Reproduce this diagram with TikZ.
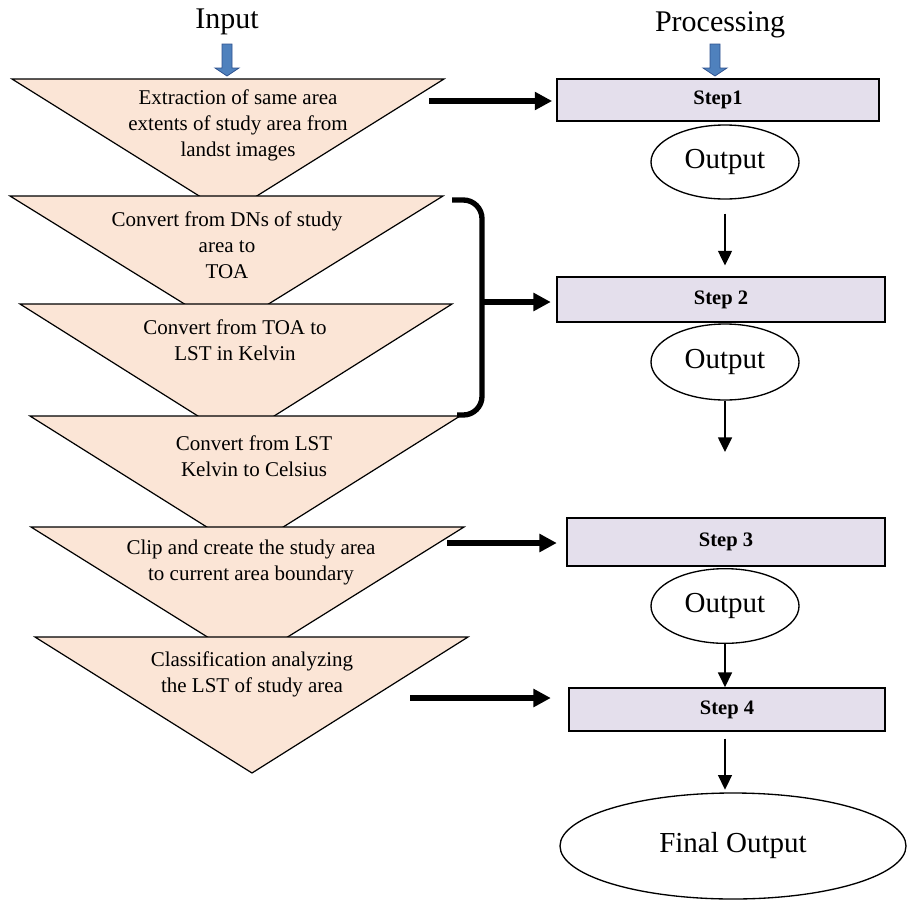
\documentclass[tikz,border=0pt]{standalone}
\usepackage{fontspec}
\setmainfont{Liberation Serif}
\usetikzlibrary{arrows.meta,shapes.geometric}
\definecolor{peach}{HTML}{FBE5D6}
\definecolor{lav}{HTML}{E4DFEC}
\definecolor{blu}{HTML}{4F81BD}
\definecolor{bluedge}{HTML}{2F528F}
\begin{document}
\begin{tikzpicture}[x=0.75pt,y=-0.75pt,
 tri/.style={fill=peach,draw=black,line width=0.9pt,line join=miter},
 ttext/.style={align=center,inner sep=0pt,font=\fontsize{15.75}{19.5}\selectfont},
 headtxt/.style={inner sep=0pt,font=\fontsize{22.5}{27}\selectfont},
 stepbox/.style={draw=black,line width=1.3pt,fill=lav,inner sep=0pt,font=\fontsize{15.4}{18}\selectfont\bfseries},
 outell/.style={ellipse,draw=black,line width=1pt,inner sep=0pt,font=\fontsize{21.75}{26}\selectfont},
 thinarrow/.style={line width=1.1pt,-{Triangle[length=11pt,width=10.5pt]}},
 thickarrow/.style={line width=4.5pt,-{Triangle[length=13pt,width=13pt]}},
 blockarrow/.style={fill=blu,draw=bluedge,line width=0.6pt}
]
\useasboundingbox (0,0) rectangle (907,900);

% headings
\node[headtxt] (inlab) at (227,22) {Input};
\node[headtxt] (prlab) at (720,25) {Processing};

% blue block arrows
\coordinate (inarr) at (227,44);
\coordinate (prarr) at (715,44);
\foreach \c in {inarr,prarr}{
  \path[blockarrow] (\c) ++(-5,0) -- ++(10,0) -- ++(0,24) -- ++(7,0) -- ++(-12,8) -- ++(-12,-8) -- ++(7,0) -- cycle;
}

% triangles
\draw[tri] (12,79) -- (444,79) -- (228,214) -- cycle;
\node[ttext] (t1) at (238,125) {Extraction of same area\\extents of study area from\\landst images};
\draw[tri] (10,196) -- (443,196) -- (226.5,330) -- cycle;
\node[ttext] (t2) at (227,245) {Convert from DNs of study\\area to\\TOA};
\draw[tri] (20,304) -- (452,304) -- (236,440) -- cycle;
\node[ttext] (t3) at (235,340) {Convert from TOA to\\LST in Kelvin};
\draw[tri] (30,416) -- (460,416) -- (245,551) -- cycle;
\node[ttext] (t4) at (254,456) {Convert from LST\\Kelvin to Celsius};
\draw[tri] (31,527) -- (464,527) -- (247.5,662) -- cycle;
\node[ttext] (t5) at (251,562) {Clip and create the study area\\to current area boundary};
\draw[tri] (35,637) -- (468,637) -- (252,773) -- cycle;
\node[ttext] (t6) at (252,674) {Classification analyzing\\the LST of study area};

% brace
\draw[line width=4pt,rounded corners=14pt] (452,200) -- (482,200) -- (482,415) -- (457,415);
\coordinate (br) at (482,302);

% step boxes
\node[stepbox,minimum width=241.5pt,minimum height=31.5pt] (s1) at (718,100) {Step1};
\node[stepbox,minimum width=246pt,minimum height=33.75pt] (s2) at (721,299.5) {Step 2};
\node[stepbox,minimum width=238.5pt,minimum height=36pt] (s3) at (726,542) {Step 3};
\node[stepbox,minimum width=237pt,minimum height=32.25pt] (s4) at (727,709.5) {Step 4};

% outputs
\node[outell,minimum width=111pt,minimum height=55.5pt] (o1) at (725,162) {Output};
\node[outell,minimum width=111pt,minimum height=57pt] (o2) at (725,362) {Output};
\node[outell,minimum width=111pt,minimum height=56pt] (o3) at (725,606) {Output};
\node[outell,minimum width=259.5pt,minimum height=79.5pt] (fin) at (733,846) {Final Output};

% thin arrows
\coordinate (o2end) at (725,452);
\draw[thinarrow,shorten <=10.5pt,shorten >=8pt] (o1.south) -- (o1.south |- s2.north);
\draw[thinarrow] (o2.south) -- (o2end);
\draw[thinarrow] (o3.south) -- (o3.south |- s4.north);
\draw[thinarrow,shorten <=5pt,shorten >=2pt] (s4.south -| fin.north -| o3.south) -- (o3.south |- fin.north);

% thick arrows
\coordinate (a1) at (429,101);
\coordinate (a3) at (447,543);
\coordinate (a4) at (410,698);
\draw[thickarrow,shorten >=3pt] (a1) -- (a1 -| s1.west);
\draw[thickarrow,shorten >=4pt] (br) -- (br -| s2.west);
\draw[thickarrow,shorten >=7pt] (a3) -- (a3 -| s3.west);
\draw[thickarrow,shorten >=13pt] (a4) -- (a4 -| s4.west);
\end{tikzpicture}
\end{document}
